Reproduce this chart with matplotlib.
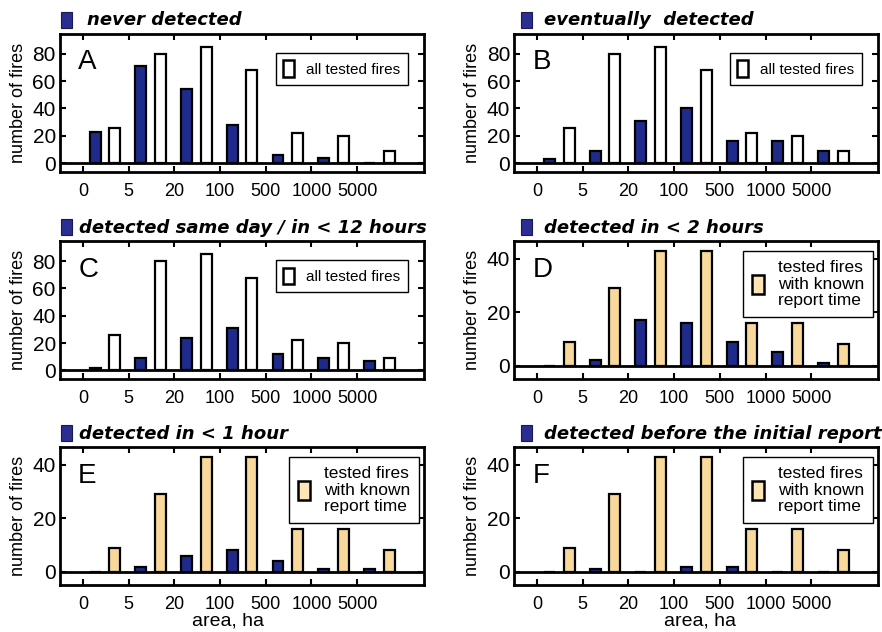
import numpy as np
import matplotlib
matplotlib.use('Agg')
import matplotlib.pyplot as plt
from matplotlib.patches import Rectangle

# area classes (ha), one tick per class boundary
area_ticks = ['0', '5', '20', '100', '500', '1000', '5000']
n_bins = 7

# reference distributions
all_tested = [26, 80, 85, 68, 22, 20, 9]
known_report = [9, 29, 43, 43, 16, 16, 8]

# detected fires per panel
never_detected = [23, 71, 54, 28, 6, 4, 0]
eventually_detected = [3, 9, 31, 40, 16, 16, 9]
same_day = [2, 9, 24, 31, 12, 9, 7]
within_2h = [0, 2, 17, 16, 9, 5, 1]
within_1h = [0, 2, 6, 8, 4, 1, 1]
before_report = [0, 1, 0, 2, 2, 0, 0]

BLUE = '#1f2b8c'
TAN = '#f8d89b'
TAN_LIGHT = '#fde5b6'

panels = [
    ('A', 'never detected', never_detected, all_tested, 'all tested fires'),
    ('B', 'eventually  detected', eventually_detected, all_tested, 'all tested fires'),
    ('C', 'detected same day / in < 12 hours', same_day, all_tested, 'all tested fires'),
    ('D', 'detected in < 2 hours', within_2h, known_report, 'tested fires\nwith known\nreport time'),
    ('E', 'detected in < 1 hour', within_1h, known_report, 'tested fires\nwith known\nreport time'),
    ('F', 'detected before the initial report', before_report, known_report, 'tested fires\nwith known\nreport time'),
]

# axes boxes in figure fractions: left, bottom, width, height
lefts = [0.068, 0.583]
bottoms = [0.728, 0.400, 0.074]
W, H = 0.413, 0.218

fig = plt.figure(figsize=(8.82, 6.32), dpi=100)
plt.rcParams['font.family'] = ['Liberation Sans', 'DejaVu Sans']

x = np.arange(n_bins)
for k, (letter, title, det, ref, ref_label) in enumerate(panels):
    col = k % 2
    row = k // 2
    ax = fig.add_axes([lefts[col], bottoms[row], W, H])
    big = ref is all_tested
    ref_color = 'white' if big else TAN

    ax.bar(x + 0.27, det, width=0.24, color=BLUE, edgecolor='black', linewidth=1.6, zorder=3)
    ax.bar(x + 0.70, ref, width=0.24, color=ref_color, edgecolor='black', linewidth=1.6, zorder=3)
    ax.axhline(0, color='black', linewidth=2, zorder=4)

    ax.set_xlim(-0.5, 7.47)
    ax.set_xticks(np.arange(len(area_ticks)))
    ax.set_xticklabels(area_ticks)
    if big:
        ax.set_ylim(-6.5, 94.5)
        ax.set_yticks([0, 20, 40, 60, 80])
    else:
        ax.set_ylim(-5, 46.5)
        ax.set_yticks([0, 20, 40])

    ax.tick_params(direction='in', length=4, width=1.5, top=True, right=True)
    ax.tick_params(axis='x', labelsize=13, pad=8)
    ax.tick_params(axis='y', labelsize=15, pad=3)
    for s in ax.spines.values():
        s.set_linewidth(2)
    ax.set_ylabel('number of fires', fontsize=13)
    ax.yaxis.set_label_coords(-0.09, 0.5)

    if row == 2:
        ax.set_xlabel('area, ha', fontsize=14)
        ax.xaxis.set_label_coords(0.46 if col == 0 else 0.51, -0.195)

    ax.text(0.05, 0.89, letter, transform=ax.transAxes, fontsize=20,
            va='top', ha='left')

    # title with coloured square
    sq_x = 0.003 if col == 0 else 0.019
    ax.add_patch(Rectangle((sq_x, 1.045), 0.03, 0.115, transform=ax.transAxes,
                           facecolor='#2a2e90', edgecolor='#1a1a50', linewidth=0.8,
                           clip_on=False))
    tx = 0.075 if col == 0 else 0.083
    if letter in ('C', 'E'):
        tx = 0.052
    ax.text(tx, 1.10, title, transform=ax.transAxes, fontsize=13,
            fontweight='bold', fontstyle='italic', family='DejaVu Sans',
            va='center', ha='left')

    # legend for the reference distribution
    handle = Rectangle((0, 0), 1, 1, facecolor='white' if big else TAN_LIGHT,
                       edgecolor='black', linewidth=1.8)
    if big:
        anchor = (0.955, 0.865)
        fs = 11
    else:
        anchor = (0.985, 0.93)
        fs = 12.5
    leg = ax.legend([handle], [ref_label], loc='upper right', bbox_to_anchor=anchor,
                    borderaxespad=0, fancybox=False, framealpha=1, fontsize=fs,
                    handlelength=0.7, handleheight=1.3, handletextpad=0.8,
                    borderpad=0.5, labelspacing=0.3)
    for t in leg.get_texts():
        t.set_multialignment('left')
        t.set_linespacing(1.15)
    leg.get_frame().set_edgecolor('black')
    leg.get_frame().set_linewidth(1.0)
    leg.set_zorder(5)

fig.savefig('out.png', dpi=100)
